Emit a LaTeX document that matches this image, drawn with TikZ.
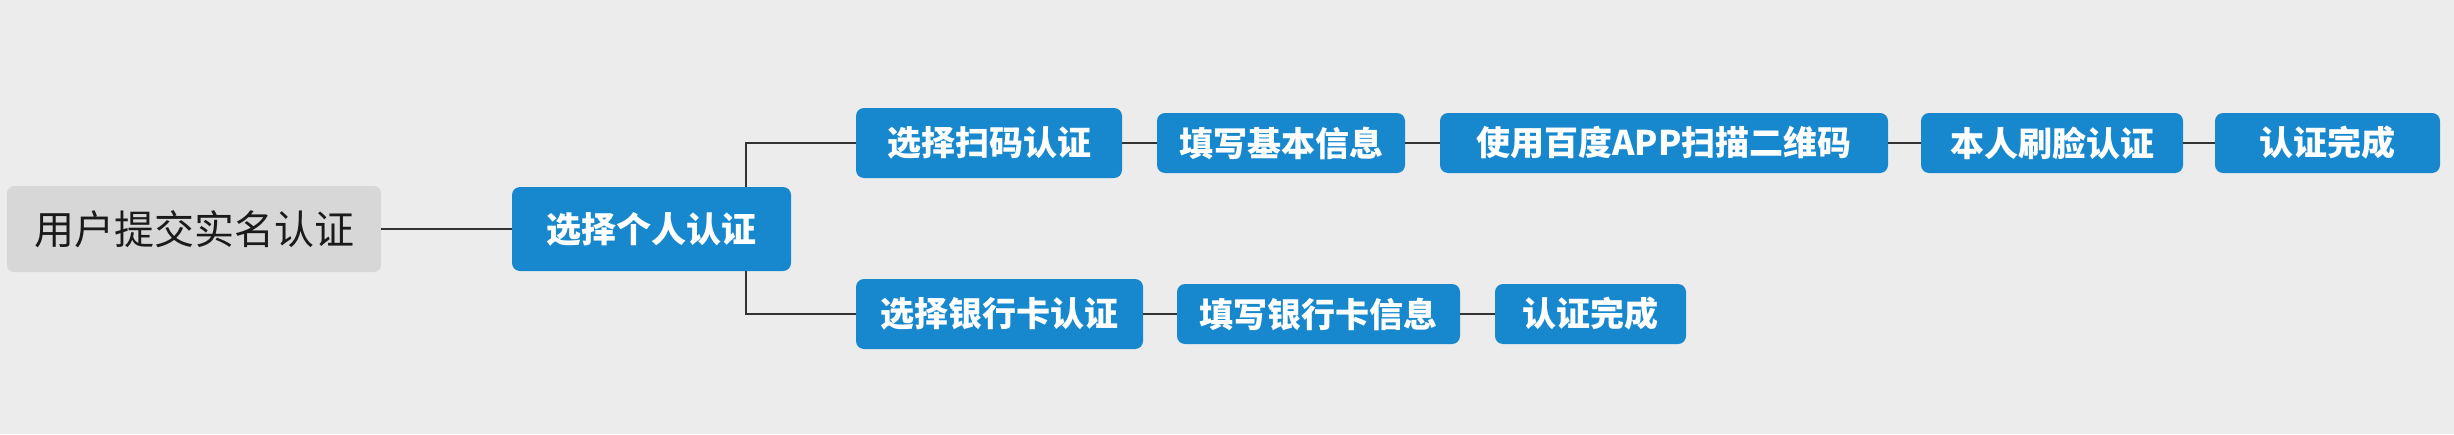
\documentclass[tikz,border=0pt]{standalone}
\usepackage{fontspec}
\newfontfamily\cjk{Noto Sans CJK SC}
\definecolor{bg}{HTML}{ECECEC}
\definecolor{rootgray}{HTML}{D7D7D7}
\definecolor{nodeblue}{HTML}{1888CE}
\definecolor{linegray}{HTML}{333333}
\definecolor{roottext}{HTML}{1A1A1A}
\tikzset{
  rootbox/.style={fill=rootgray, rounded corners=7pt, inner sep=0pt, align=center,
    font=\cjk\fontsize{40}{48}\selectfont, text=roottext},
  bluebox/.style={fill=nodeblue, rounded corners=8pt, inner sep=0pt, align=center,
    font=\cjk\bfseries\fontsize{34}{40}\selectfont, text=white},
  link/.style={draw=linegray, line width=2.2pt}
}
\begin{document}
\begin{tikzpicture}[x=1pt,y=-1pt]
\fill[bg] (0,0) rectangle (2454,434);
\useasboundingbox (0,0) rectangle (2454,434);
\node[rootbox, minimum width=374pt, minimum height=86pt] (root) at (194,229) {用户提交实名认证};
\node[bluebox, minimum width=279pt, minimum height=84pt, font=\cjk\bfseries\fontsize{35}{42}\selectfont] (l1) at (651.5,229) {选择个人认证};
\node[bluebox, minimum width=266pt, minimum height=70pt] (a1) at (989,143) {选择扫码认证};
\node[bluebox, minimum width=248pt, minimum height=60pt] (a2) at (1281,143) {填写基本信息};
\node[bluebox, minimum width=448pt, minimum height=60pt] (a3) at (1664,143) {使用百度APP扫描二维码};
\node[bluebox, minimum width=262pt, minimum height=60pt] (a4) at (2052,143) {本人刷脸认证};
\node[bluebox, minimum width=225pt, minimum height=60pt] (a5) at (2327.5,143) {认证完成};
\node[bluebox, minimum width=287pt, minimum height=70pt] (b1) at (999.5,314) {选择银行卡认证};
\node[bluebox, minimum width=283pt, minimum height=60pt] (b2) at (1318.5,314) {填写银行卡信息};
\node[bluebox, minimum width=191pt, minimum height=60pt] (b3) at (1590.5,314) {认证完成};
\coordinate (trunk) at (746,229);
\draw[link] (root.east) -- (l1.west);
\draw[link] (l1.north -| trunk) |- (a1.west);
\draw[link] (l1.south -| trunk) |- (b1.west);
\draw[link] (a1.east) -- (a2.west);
\draw[link] (a2.east) -- (a3.west);
\draw[link] (a3.east) -- (a4.west);
\draw[link] (a4.east) -- (a5.west);
\draw[link] (b1.east) -- (b2.west);
\draw[link] (b2.east) -- (b3.west);
\end{tikzpicture}
\end{document}
